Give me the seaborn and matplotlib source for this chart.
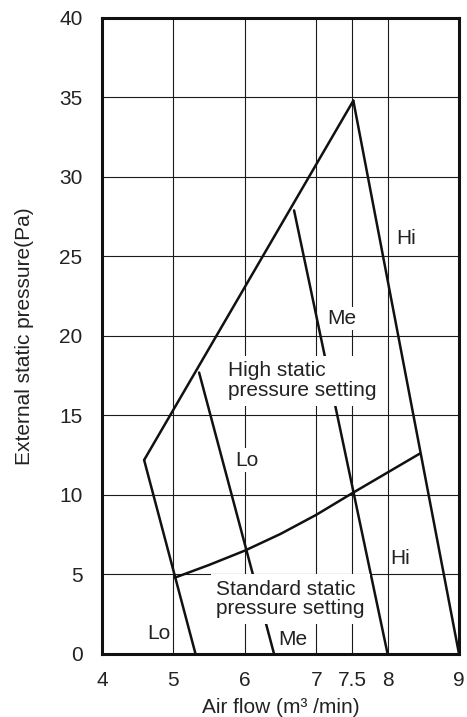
import numpy as np
import pandas as pd
import matplotlib
matplotlib.use("Agg")
import matplotlib.pyplot as plt
import seaborn as sns

# Fan curves (air flow m3/min, static pressure Pa)
hi_x = [7.52, 9.0]
hi_y = [34.8, 0.0]
me_x = [6.69, 8.0]
me_y = [27.9, 0.0]
lo_x = [5.36, 6.41]
lo_y = [17.7, 0.0]
upper_x = [4.59, 7.52]
upper_y = [12.2, 34.8]
left_x = [4.59, 5.31]
left_y = [12.2, 0.0]
std_x = [5.02, 5.5, 6.0, 6.5, 7.0, 7.5, 8.45]
std_y = [4.8, 5.6, 6.5, 7.55, 8.75, 10.1, 12.6]

x_ticks = [4, 5, 6, 7, 7.5, 8, 9]
x_labels = ["4", "5", "6", "7", "7.5", "8", "9"]
y_ticks = [0, 5, 10, 15, 20, 25, 30, 35, 40]

curves = {"hi": (hi_x, hi_y), "me": (me_x, me_y), "lo": (lo_x, lo_y),
          "upper": (upper_x, upper_y), "left": (left_x, left_y),
          "std": (std_x, std_y)}
df = pd.concat([pd.DataFrame({"flow": x, "pressure": y, "curve": name})
                for name, (x, y) in curves.items()], ignore_index=True)

sns.set_style("white")
plt.rcParams["font.family"] = ["Liberation Sans", "DejaVu Sans"]

fig = plt.figure(figsize=(4.67, 7.17), dpi=100)
ax = fig.add_axes([0.2184, 0.0879, 0.7645, 0.887])

sns.lineplot(data=df, x="flow", y="pressure", units="curve", estimator=None,
             sort=False, color="#111111", linewidth=1.8, ax=ax, zorder=3)

ax.set_xlim(4, 9)
ax.set_ylim(0, 40)
ax.set_xticks(x_ticks)
ax.set_xticklabels(x_labels)
ax.set_yticks(y_ticks)
ax.tick_params(axis="both", length=0, labelsize=15, colors="#222222")
ax.tick_params(axis="y", pad=14)
ax.tick_params(axis="x", pad=12)
ax.grid(True, color="#1a1a1a", linewidth=0.8)
for s in ax.spines.values():
    s.set_color("#111111")
    s.set_linewidth(2.2)
    s.set_zorder(5)

ax.set_xlabel("Air flow (m³ /min)", fontsize=15, color="#222222", labelpad=6)
ax.set_ylabel("External static pressure(Pa)", fontsize=15, color="#222222")
ax.yaxis.set_label_coords(-0.19, 0.5)

box = dict(facecolor="white", edgecolor="none", pad=1.5)
txt = dict(fontsize=15, color="#222222", zorder=6)
ax.text(8.12, 26.1, "Hi", va="center", ha="left", **txt)
ax.text(7.15, 21.1, "Me", va="center", ha="left", bbox=box, **txt)
ax.text(5.77, 17.2, "High static\npressure setting", va="center", ha="left",
        linespacing=1.05, bbox=dict(facecolor="white", edgecolor="none", pad=4), **txt)
ax.text(5.86, 12.2, "Lo", va="center", ha="left", bbox=box, **txt)
ax.text(8.03, 6.0, "Hi", va="center", ha="left", **txt)
ax.text(5.6, 3.45, "Standard static\npressure setting", va="center", ha="left",
        linespacing=1.05, bbox=dict(facecolor="white", edgecolor="none", pad=4), **txt)
ax.text(4.63, 1.3, "Lo", va="center", ha="left", **txt)
ax.text(6.47, 0.9, "Me", va="center", ha="left", **txt)

fig.savefig("out.png", dpi=100)
